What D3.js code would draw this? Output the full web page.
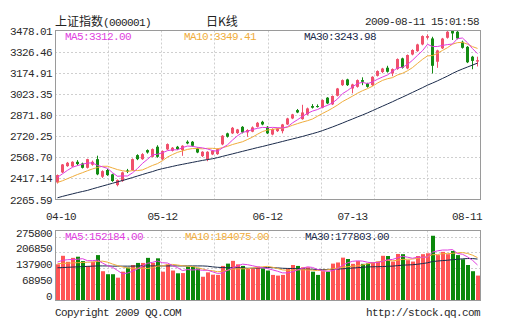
<!DOCTYPE html>
<html>
<head>
<meta charset="utf-8">
<script src="https://cdn.jsdelivr.net/npm/d3@7"></script>
<style>
  body { margin: 0; background: #fff; }
  svg text { font-family: "Liberation Mono", "DejaVu Sans Mono", monospace; font-size: 11px; letter-spacing: -0.6px; fill: #2a2a2a; }
  svg text.cjk { font-family: "Noto Sans CJK SC", sans-serif; font-size: 12px; letter-spacing: 0; fill: #222; }
</style>
</head>
<body>
<svg id="chart" width="505" height="330"></svg>
<script>
// Trading days, 2009-04-10 .. 2009-08-11
const dates = [
  "04-10","04-13","04-14","04-15","04-16","04-17","04-20","04-21","04-22","04-23","04-24","04-27","04-28","04-29","04-30",
  "05-04","05-05","05-06","05-07","05-08","05-11","05-12","05-13","05-14","05-15","05-18","05-19","05-20","05-21","05-22","05-25","05-26","05-27",
  "06-01","06-02","06-03","06-04","06-05","06-08","06-09","06-10","06-11","06-12","06-15","06-16","06-17","06-18","06-19","06-22","06-23","06-24","06-25","06-26","06-29","06-30",
  "07-01","07-02","07-03","07-06","07-07","07-08","07-09","07-10","07-13","07-14","07-15","07-16","07-17","07-20","07-21","07-22","07-23","07-24","07-27","07-28","07-29","07-30","07-31",
  "08-03","08-04","08-05","08-06","08-07","08-10","08-11"
];

const open = [
  2388,2460,2505,2503,2536,2524,2493,2515,2555,2429,
  2477,2446,2369,2398,2474,2477,2584,2555,2620,2572,
  2644,2555,2625,2615,2644,2620,2680,2680,2632,2577,
  2555,2589,2591,2661,2740,2740,2742,2787,2747,2752,
  2787,2823,2787,2732,2756,2756,2804,2847,2907,2842,
  2876,2936,2936,2924,2996,2948,3010,3086,3127,3062,
  3074,3122,3098,3086,3153,3180,3211,3170,3201,3278,
  3206,3306,3330,3378,3426,3421,3254,3350,3426,3474,
  3469,3397,3361,3290,3255
];
const high = [
  2445,2520,2535,2540,2548,2530,2558,2545,2580,2475,
  2485,2450,2410,2465,2485,2560,2590,2598,2625,2632,
  2655,2618,2668,2642,2650,2655,2690,2685,2638,2612,
  2612,2620,2632,2728,2745,2786,2772,2792,2770,2790,
  2822,2830,2792,2776,2780,2808,2852,2880,2915,2945,
  2925,2950,2948,2984,3000,3012,3066,3127,3132,3096,
  3127,3142,3103,3150,3192,3210,3225,3206,3278,3283,
  3306,3343,3383,3443,3450,3433,3340,3425,3474,3478,
  3474,3405,3366,3296,3290
];
const low = [
  2380,2455,2500,2498,2510,2488,2488,2508,2440,2420,
  2435,2392,2360,2392,2455,2472,2548,2550,2595,2568,
  2565,2548,2620,2610,2622,2579,2662,2645,2598,2570,
  2540,2584,2586,2655,2710,2735,2736,2740,2715,2748,
  2782,2798,2735,2726,2750,2740,2800,2842,2885,2838,
  2870,2918,2925,2920,2950,2943,3005,3080,3080,3027,
  3068,3086,3068,3080,3148,3172,3176,3150,3196,3205,
  3200,3300,3325,3372,3415,3170,3210,3345,3420,3410,
  3415,3348,3244,3200,3220
];
const close = [
  2441,2517,2529,2536,2520,2493,2555,2536,2446,2469,
  2441,2398,2405,2460,2465,2555,2555,2591,2603,2627,
  2572,2613,2663,2637,2627,2651,2668,2651,2603,2608,
  2608,2615,2627,2723,2716,2780,2768,2747,2764,2783,
  2816,2804,2740,2771,2775,2804,2847,2876,2890,2890,
  2919,2924,2930,2979,2955,3008,3062,3122,3086,3091,
  3122,3110,3074,3146,3187,3205,3182,3201,3273,3211,
  3302,3338,3378,3438,3438,3225,3335,3420,3469,3457,
  3421,3354,3250,3260,3265
];

const ma5 = [
  2425,2450,2475,2497,2509,2519,2527,2528,2510,2500,
  2489,2458,2432,2435,2434,2457,2488,2525,2554,2586,
  2590,2601,2616,2622,2622,2638,2649,2647,2640,2636,
  2628,2617,2612,2636,2658,2692,2723,2747,2755,2768,
  2776,2783,2781,2783,2781,2779,2787,2815,2838,2861,
  2884,2900,2911,2928,2941,2959,2987,3025,3047,3074,
  3097,3106,3097,3109,3128,3144,3159,3184,3210,3214,
  3234,3265,3300,3333,3379,3363,3363,3371,3377,3381,
  3420,3424,3390,3348,3312.00
];
const ma10 = [
  2388,2400,2415,2430,2445,2458,2472,2485,2495,2504,
  2504,2492,2480,2472,2467,2473,2473,2478,2494,2510,
  2523,2544,2570,2588,2604,2614,2625,2631,2631,2629,
  2633,2633,2629,2638,2647,2660,2670,2680,2696,2713,
  2734,2753,2764,2769,2774,2777,2785,2798,2810,2821,
  2831,2843,2863,2883,2901,2921,2943,2968,2987,3007,
  3028,3046,3061,3078,3101,3120,3132,3140,3159,3171,
  3189,3212,3242,3271,3296,3298,3314,3335,3355,3380,
  3391,3393,3380,3362,3349.41
];
const ma30 = [
  2278,2288,2297,2306,2315,2323,2331,2342,2352,2362,
  2372,2382,2392,2402,2412,2423,2434,2445,2456,2466,
  2478,2487,2495,2503,2511,2518,2525,2532,2539,2546,
  2552,2558,2566,2575,2584,2593,2602,2611,2620,2629,
  2638,2646,2655,2664,2673,2682,2691,2700,2709,2718,
  2728,2738,2748,2760,2773,2786,2800,2814,2829,2843,
  2858,2872,2887,2903,2919,2935,2951,2967,2984,3000,
  3017,3034,3051,3068,3086,3101,3117,3134,3151,3170,
  3187,3202,3216,3230,3243.98
];

const volume = [
  155000,192000,166000,183000,188000,169000,148000,166000,195000,125000,
  112000,112000,97000,123000,141000,152000,161000,161000,183000,161000,
  181000,123000,155000,128000,116000,117000,145000,145000,137000,101000,
  120000,110000,109000,148000,158000,170000,155000,148000,136000,136000,
  145000,137000,128000,109000,106000,109000,137000,152000,148000,142000,
  142000,123000,109000,125000,123000,158000,163000,184000,178000,157000,
  169000,157000,159000,164000,167000,192000,191000,167000,200000,199000,
  173000,167000,191000,199000,203000,279000,195000,209000,199000,213000,
  195000,177000,152000,125000,106000
];
const volMa5 = [
  165000,172000,175000,176000,176800,179600,170800,170800,173200,160600,
  149200,142000,128200,113800,117000,125000,134800,147600,159600,163600,
  169400,161800,160600,149600,140600,127800,132200,130200,132000,129000,
  129600,122600,115400,117600,129000,139000,148000,155800,153400,149000,
  144000,140400,136400,131000,125000,117800,117800,122600,130400,137600,
  144200,141400,132800,128200,124400,127600,135600,150600,161200,168000,
  170200,169000,164000,161200,163200,167800,174600,176200,183400,189800,
  186000,181200,186000,185800,186600,207800,213400,217000,217000,219000,
  202200,198600,187200,172400,152184
];
const volMa10 = [
  158000,159000,160000,161000,162000,163000,164000,165000,167000,168700,
  164400,156400,149500,143500,138800,137100,138400,137900,136700,140300,
  147200,148300,154100,154600,152100,148600,147000,145400,140800,134800,
  128700,127400,122800,124800,129000,134300,135300,135600,135500,139000,
  141500,144200,146100,142200,137000,130900,129100,129500,130700,131300,
  131000,129600,127700,129300,131000,135900,138500,141700,144700,146200,
  148900,152300,157300,161200,165600,169000,171800,170100,172300,176500,
  176900,177900,181100,184600,188200,196900,197300,201500,201400,202800,
  205000,206000,202100,194700,184075
];
const volMa30 = [
  140000,141000,142000,143000,144000,145000,146000,147000,148000,148000,
  148000,147000,147000,147000,147000,147000,148000,148000,148000,148000,
  148000,148000,148000,148000,148000,148000,148000,148000,148000,147900,
  146800,144000,142100,141000,140000,140000,140200,139600,137700,138000,
  139100,140000,141000,140500,139400,137900,137100,136800,135700,135000,
  133700,133700,132200,132100,132300,133700,134300,135600,136900,138800,
  140400,142000,143700,144200,144500,145200,146400,147100,149200,151300,
  152200,153200,155300,158300,161600,167200,169200,171100,172800,175100,
  176900,178700,180100,180100,177803
];

const priceTickLabels = ["2265.59","2417.14","2568.70","2720.25","2871.80","3023.35","3174.91","3326.46","3478.01"];
const volTicks = [0, 68950, 137900, 206850, 275800];
const dateTicks = ["04-10","05-12","06-12","07-13","08-11"];

const COLORS = {
  up: "#f0506c", down: "#138b13",
  volUp: "#ff5555", volDown: "#0b890b",
  ma5: "#e03ee0", ma10: "#f0ad3c", ma30: "#1b2b4b",
  grid: "#cfcfcf", frame: "#9a9a9a"
};

const svg = d3.select("#chart");
const L = 55, R = 480;
const priceTicks = priceTickLabels.map(Number);

const x = d3.scaleBand().domain(dates).range([L, R]).paddingInner(0).paddingOuter(0);
const bw = x.bandwidth();
const cx = d => x(d) + bw / 2;

const y = d3.scaleLinear().domain([priceTicks[0], priceTicks[priceTicks.length - 1]]).range([199.5, 30.5]);
const yv = d3.scaleLinear().domain([0, 275800]).range([300, 236.5]);

const main = { top: 30.5, bottom: 199.5 };
const vol = { top: 230.5, bottom: 300.5 };

// ---------- grid ----------
const vCols = d3.range(1, 8).map(k => Math.round(L + (R - L) * k / 8) + 0.5);
function vGrid(panel) {
  svg.append("g").selectAll("line").data(vCols).join("line")
    .attr("x1", d => d).attr("x2", d => d)
    .attr("y1", panel.top).attr("y2", panel.bottom)
    .attr("stroke", COLORS.grid).attr("stroke-dasharray", "2,2");
}
vGrid(main);
vGrid(vol);

svg.append("g").selectAll("line").data(priceTicks.slice(1, -1)).join("line")
  .attr("x1", L).attr("x2", R)
  .attr("y1", d => Math.round(y(d)) + 0.5).attr("y2", d => Math.round(y(d)) + 0.5)
  .attr("stroke", COLORS.grid).attr("stroke-dasharray", "2,2");

svg.append("g").selectAll("line").data(volTicks.slice(1)).join("line")
  .attr("x1", L).attr("x2", R)
  .attr("y1", d => Math.round(yv(d)) + 0.5).attr("y2", d => Math.round(yv(d)) + 0.5)
  .attr("stroke", COLORS.grid).attr("stroke-dasharray", "2,2");

// ---------- candles ----------
const idx = d3.range(dates.length);
const cg = svg.append("g");
cg.selectAll("line").data(idx).join("line")
  .attr("x1", i => Math.floor(cx(dates[i])) + 0.5).attr("x2", i => Math.floor(cx(dates[i])) + 0.5)
  .attr("y1", i => y(high[i])).attr("y2", i => y(low[i]))
  .attr("stroke", i => close[i] >= open[i] ? COLORS.up : COLORS.down);
cg.selectAll("rect").data(idx).join("rect")
  .attr("x", i => x(dates[i]) + 1)
  .attr("width", bw - 2)
  .attr("y", i => y(Math.max(open[i], close[i])))
  .attr("height", i => Math.max(1, Math.abs(y(open[i]) - y(close[i]))))
  .attr("fill", i => close[i] >= open[i] ? COLORS.up : COLORS.down);

// ---------- price moving averages ----------
const priceLine = d3.line().x((d, i) => cx(dates[i])).y(d => y(d));
[[ma30, COLORS.ma30], [ma10, COLORS.ma10], [ma5, COLORS.ma5]].forEach(([s, c]) => {
  svg.append("path").attr("d", priceLine(s)).attr("fill", "none").attr("stroke", c).attr("stroke-width", 1);
});

// ---------- volume ----------
svg.append("g").selectAll("rect").data(idx).join("rect")
  .attr("x", i => x(dates[i]) + 1)
  .attr("width", bw - 1)
  .attr("y", i => yv(volume[i]))
  .attr("height", i => yv(0) - yv(volume[i]))
  .attr("fill", i => close[i] >= open[i] ? COLORS.volUp : COLORS.volDown);

const volLine = d3.line().x((d, i) => cx(dates[i])).y(d => yv(d));
[[volMa30, COLORS.ma30], [volMa10, COLORS.ma10], [volMa5, COLORS.ma5]].forEach(([s, c]) => {
  svg.append("path").attr("d", volLine(s)).attr("fill", "none").attr("stroke", c).attr("stroke-width", 1);
});

// ---------- frames ----------
[main, vol].forEach(p => {
  svg.append("rect").attr("x", L + 0.5).attr("y", p.top).attr("width", R - L).attr("height", p.bottom - p.top)
    .attr("fill", "none").attr("stroke", COLORS.frame);
});

// ---------- axes ----------
const yAxis = d3.axisLeft(y).tickValues(priceTicks).tickFormat((d, i) => priceTickLabels[i]).tickSize(0).tickPadding(0);
const ya = svg.append("g").attr("transform", "translate(52,0)").call(yAxis);
ya.select(".domain").remove();
ya.selectAll("text").attr("font-family", null).attr("font-size", null);

const vAxis = d3.axisLeft(yv).tickValues(volTicks).tickFormat(d3.format("d")).tickSize(0).tickPadding(0);
const va = svg.append("g").attr("transform", "translate(52,-4)").call(vAxis);
va.select(".domain").remove();
va.selectAll("text").attr("font-family", null).attr("font-size", null);

// date labels: centred on their candle, kept inside the frame; the July label
// is pulled left so it sits clear of the crowded August end
const dateLabelNudge = { "07-13": -20 };
svg.append("g").selectAll("text").data(dateTicks).join("text")
  .attr("x", d => Math.min(Math.max(cx(d), 61), 467) + (dateLabelNudge[d] || 0))
  .attr("y", 220)
  .attr("text-anchor", "middle")
  .text(d => d);

// ---------- headings & legends ----------
const title = svg.append("text").attr("class", "cjk").attr("x", 55).attr("y", 26);
title.append("tspan").text("上证指数");
title.append("tspan").attr("style", "font-family:'Liberation Mono',monospace;font-size:11px;letter-spacing:-0.6px").text("(000001)");
svg.append("text").attr("class", "cjk").attr("x", 206).attr("y", 26).text("日K线");
svg.append("text").attr("x", 479).attr("y", 25).attr("text-anchor", "end").text("2009-08-11 15:01:58");

const last = dates.length - 1;
const fmt2 = d3.format(".2f");
const legend = (yy, items) => items.forEach(([label, s, c, xx]) => {
  svg.append("text").attr("x", xx).attr("y", yy).style("fill", c).text(label + ":" + fmt2(s[last]));
});
legend(40, [["MA5", ma5, COLORS.ma5, 65], ["MA10", ma10, COLORS.ma10, 184], ["MA30", ma30, COLORS.ma30, 304]]);
legend(240, [["MA5", volMa5, COLORS.ma5, 65], ["MA10", volMa10, COLORS.ma10, 185], ["MA30", volMa30, COLORS.ma30, 305]]);

svg.append("text").attr("x", 55).attr("y", 316).text("Copyright 2009 QQ.COM");
svg.append("text").attr("x", 480).attr("y", 316).attr("text-anchor", "end").text("http://stock.qq.com");
</script>
</body>
</html>
